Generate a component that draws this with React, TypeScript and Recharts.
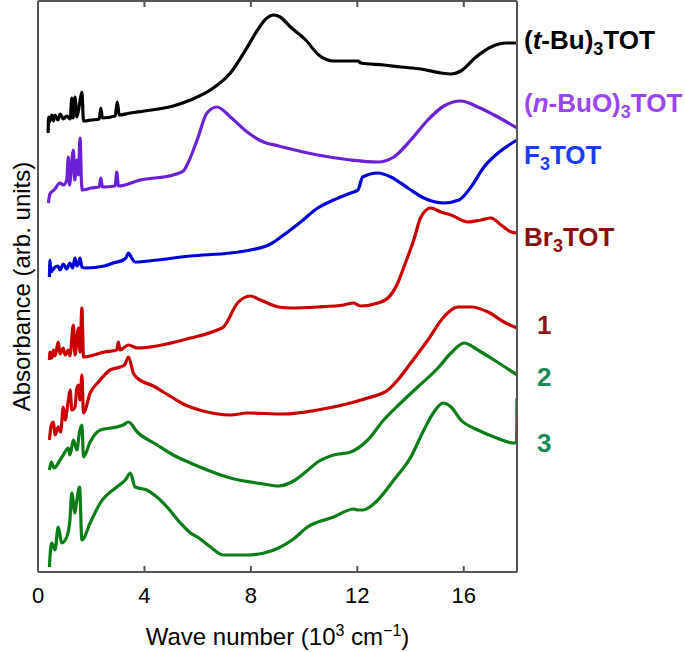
import React from 'react';
import { LineChart, Line, XAxis, YAxis } from 'recharts';

// wave number (10^3 cm^-1), absorbance (arb. units, curves stacked with offsets)
const tBuTOT: [number, number][] = [
  [0.38, 439], [0.40, 455], [0.43, 450], [0.52, 457], [0.58, 451], [0.64, 457], [0.75, 452], [0.83, 458],
  [0.95, 453], [1.08, 456], [1.21, 453], [1.27, 474], [1.32, 454], [1.39, 475], [1.46, 455], [1.56, 468],
  [1.65, 480], [1.71, 451], [2.0, 452], [2.30, 453], [2.36, 464], [2.42, 454], [2.90, 456], [2.98, 470],
  [3.05, 457], [3.47, 459], [4.0, 461], [5.08, 466], [5.73, 472], [6.59, 484], [7.23, 499], [7.80, 522],
  [8.25, 542], [8.60, 554], [8.85, 557], [9.10, 555], [9.49, 545], [10.06, 532], [10.55, 517], [11.11, 511],
  [11.94, 511], [12.02, 511], [12.13, 509], [13.0, 507], [13.63, 505], [14.39, 503], [15.14, 499],
  [15.52, 498], [15.89, 501], [16.46, 515], [17.02, 525], [17.59, 529], [18, 529],
];

const nBuOTOT: [number, number][] = [
  [0.39, 369], [0.45, 378], [0.60, 382], [0.83, 389], [0.95, 387], [1.08, 392], [1.14, 415], [1.18, 387],
  [1.33, 422], [1.38, 392], [1.46, 412], [1.52, 397], [1.58, 434], [1.63, 392], [1.67, 382], [2.0, 384],
  [2.30, 385], [2.36, 394], [2.42, 385], [2.90, 386], [2.96, 400], [3.02, 386], [3.84, 392], [5.08, 397],
  [5.46, 401], [5.60, 407], [5.98, 432], [6.35, 459], [6.73, 465], [7.23, 455], [7.86, 440], [8.47, 430],
  [9.04, 426], [10.51, 417], [11.75, 412], [12.77, 410], [13.37, 415], [14.01, 432], [14.65, 452],
  [15.25, 466], [15.89, 471], [16.53, 465], [17.14, 457], [18, 444],
];

const F3TOT: [number, number][] = [
  [0.43, 295], [0.45, 312], [0.48, 300], [0.60, 304], [0.75, 306], [0.83, 302], [0.95, 308], [1.08, 303],
  [1.20, 309], [1.30, 304], [1.39, 314], [1.46, 306], [1.52, 308], [1.58, 314], [1.65, 305], [1.77, 304],
  [2.5, 306], [2.82, 309], [3.20, 312], [3.30, 314], [3.40, 319], [3.52, 314], [3.65, 310], [4.48, 312],
  [5.73, 316], [7.23, 319], [7.98, 322], [8.47, 325], [8.74, 328], [9.23, 337], [9.87, 350], [10.51, 364],
  [11.11, 372], [11.75, 379], [12.02, 382], [12.20, 395], [12.77, 399], [13.26, 395], [13.90, 384],
  [14.50, 374], [15.25, 369], [15.82, 372], [16.27, 385], [16.76, 405], [17.29, 419], [18, 432],
];

const Br3TOT: [number, number][] = [
  [0.43, 212], [0.45, 220], [0.52, 214], [0.58, 222], [0.64, 216], [0.76, 230], [0.83, 218], [0.95, 224],
  [1.02, 217], [1.14, 222], [1.20, 216], [1.33, 247], [1.39, 217], [1.52, 244], [1.58, 220], [1.65, 264],
  [1.71, 215], [2.5, 220], [2.96, 222], [3.02, 230], [3.08, 222], [3.40, 227], [3.73, 224], [5.73, 234],
  [6.74, 242], [6.97, 245], [7.50, 269], [7.98, 276], [8.36, 272], [9.04, 265], [9.49, 264], [10.51, 265],
  [11.49, 267], [11.86, 269], [12.02, 267], [12.13, 266], [12.77, 269], [13.15, 274], [13.52, 289],
  [13.75, 305], [14.12, 332], [14.39, 355], [14.76, 364], [15.14, 360], [15.52, 357], [16.16, 350],
  [16.65, 352], [17.02, 354], [17.40, 347], [17.78, 340], [18, 339],
];

const cpd1: [number, number][] = [
  [0.43, 132], [0.50, 147], [0.58, 150], [0.64, 137], [0.76, 145], [0.85, 140], [0.95, 165], [1.02, 152],
  [1.14, 172], [1.21, 182], [1.27, 162], [1.39, 165], [1.45, 182], [1.52, 187], [1.58, 172], [1.65, 197],
  [1.71, 159], [1.96, 179], [2.27, 190], [2.71, 202], [3.09, 205], [3.25, 207], [3.40, 215], [3.58, 199],
  [3.73, 194], [4.33, 186], [4.71, 180], [5.08, 174], [5.46, 168], [6.21, 161], [7.23, 157], [7.87, 159],
  [9.23, 158], [10.51, 162], [11.75, 169], [12.39, 174], [13.15, 182], [13.52, 192], [14.01, 209],
  [14.65, 232], [15.25, 255], [15.78, 265], [16.27, 265], [16.91, 260], [17.51, 250], [18, 244],
];

const cpd2: [number, number][] = [
  [0.43, 102], [0.50, 110], [0.60, 104], [0.83, 112], [0.95, 117], [1.14, 124], [1.20, 117], [1.33, 132],
  [1.46, 122], [1.56, 140], [1.65, 147], [1.71, 115], [1.96, 130], [2.34, 142], [2.96, 145], [3.20, 147],
  [3.40, 150], [3.73, 140], [4.48, 127], [5.08, 117], [5.73, 109], [5.99, 106], [7.23, 94], [8.47, 88],
  [9.04, 86], [9.60, 91], [10.10, 101], [10.51, 110], [11.11, 117], [11.75, 120], [12.39, 132],
  [12.99, 152], [13.63, 169], [14.27, 185], [15.03, 204], [15.52, 219], [16.01, 229], [16.53, 222],
  [17.14, 212], [18, 197],
];

const cpd3: [number, number][] = [
  [0.43, 5], [0.45, 15], [0.52, 29], [0.64, 22], [0.76, 45], [0.89, 29], [1.08, 35], [1.20, 52],
  [1.27, 79], [1.39, 59], [1.46, 72], [1.56, 85], [1.65, 32], [1.96, 49], [2.34, 69], [2.96, 85],
  [3.28, 92], [3.47, 99], [3.65, 85], [4.09, 82], [4.47, 75], [4.85, 65], [5.35, 49], [5.73, 39],
  [5.99, 35], [6.48, 25], [6.97, 17], [7.87, 17], [8.50, 19], [9.04, 24], [9.60, 33], [10.13, 45],
  [11.11, 55], [11.86, 63], [12.02, 62], [12.20, 62], [12.77, 72], [13.37, 92], [14.01, 115], [14.50, 142],
  [14.88, 160], [15.22, 169], [15.52, 165], [15.89, 152], [16.53, 142], [17.14, 135], [17.89, 129],
  [17.98, 129], [18, 174],
];

const xTicks = [0, 4, 8, 12, 16];

const FONT = '"Liberation Sans", Arial, Helvetica, sans-serif';
const AXIS = '#555';
const AXIS_W = 2;

const series = [
  {
    key: 'tBu', data: tBuTOT, stroke: '#000000', color: '#000000', dx: 7, dy: -3,
    name: (
      <>
        <tspan>(</tspan><tspan fontStyle="italic">t</tspan><tspan>-Bu)</tspan>
        <tspan dy={6} fontSize={18}>3</tspan><tspan dy={-6}>TOT</tspan>
      </>
    ),
  },
  {
    key: 'nBuO', data: nBuOTOT, stroke: '#6b1fd6', color: '#9a45f2', dx: 7, dy: -25,
    name: (
      <>
        <tspan>(</tspan><tspan fontStyle="italic">n</tspan><tspan>-BuO)</tspan>
        <tspan dy={6} fontSize={18}>3</tspan><tspan dy={-6}>TOT</tspan>
      </>
    ),
  },
  {
    key: 'F3', data: F3TOT, stroke: '#0000d8', color: '#1a3cf2', dx: 7, dy: 15,
    name: <><tspan>F</tspan><tspan dy={6} fontSize={18}>3</tspan><tspan dy={-6}>TOT</tspan></>,
  },
  {
    key: 'Br3', data: Br3TOT, stroke: '#c80000', color: '#8b0e0e', dx: 7, dy: 4,
    name: <><tspan>Br</tspan><tspan dy={6} fontSize={18}>3</tspan><tspan dy={-6}>TOT</tspan></>,
  },
  { key: 'c1', data: cpd1, stroke: '#c80000', color: '#8b1a1a', dx: 20, dy: -3, name: <tspan>1</tspan> },
  { key: 'c2', data: cpd2, stroke: '#0b7d16', color: '#198a55', dx: 20, dy: 2, name: <tspan>2</tspan> },
  { key: 'c3', data: cpd3, stroke: '#0b7d16', color: '#198a55', dx: 20, dy: 45, name: <tspan>3</tspan> },
];

const BottomTick = (props: any) => {
  const { x, y, payload } = props;
  return (
    <g>
      <line x1={x} x2={x} y1={y} y2={y - 6} stroke={AXIS} strokeWidth={AXIS_W} />
      <text x={x} y={y + 31} textAnchor="middle" fontSize={22} fontFamily={FONT} fill="#000">
        {payload.value}
      </text>
    </g>
  );
};

const TopTick = (props: any) => {
  const { x, y } = props;
  return <line x1={x} x2={x} y1={y} y2={y + 6} stroke={AXIS} strokeWidth={AXIS_W} />;
};

const YTitle = (props: any) => {
  const { viewBox } = props;
  const cx = viewBox.x - 16;
  const cy = viewBox.y + viewBox.height / 2;
  return (
    <text
      x={cx}
      y={cy}
      transform={`rotate(-90 ${cx} ${cy})`}
      textAnchor="middle"
      dominantBaseline="central"
      fontSize={24}
      fontFamily={FONT}
      fill="#000"
    >
      Absorbance (arb. units)
    </text>
  );
};

const XTitle = (props: any) => {
  const { viewBox } = props;
  return (
    <text
      x={viewBox.x + viewBox.width / 2}
      y={viewBox.y + 73}
      textAnchor="middle"
      fontSize={24}
      fontFamily={FONT}
      fill="#000"
    >
      <tspan>Wave number (10</tspan>
      <tspan dy={-9} fontSize={16}>3</tspan>
      <tspan dy={9}> cm</tspan>
      <tspan dy={-9} fontSize={16}>−1</tspan>
      <tspan dy={9}>)</tspan>
    </text>
  );
};

export default function App() {
  return (
    <div style={{ width: 685, height: 652, background: '#fff' }}>
      <style>{'body{margin:0}'}</style>
      <LineChart width={685} height={652} margin={{ top: 0, right: 167, bottom: 0, left: 37 }}>
        <XAxis
          xAxisId="bottom"
          type="number"
          dataKey="x"
          domain={[0, 18]}
          ticks={xTicks}
          allowDataOverflow
          height={80}
          tickSize={0}
          tickMargin={0}
          tickLine={false}
          axisLine={{ stroke: AXIS, strokeWidth: AXIS_W }}
          tick={<BottomTick />}
          label={<XTitle />}
        />
        <XAxis
          xAxisId="top"
          orientation="top"
          type="number"
          dataKey="x"
          domain={[0, 18]}
          ticks={xTicks}
          allowDataOverflow
          height={1}
          tickSize={0}
          tickMargin={0}
          tickLine={false}
          axisLine={{ stroke: AXIS, strokeWidth: AXIS_W }}
          tick={<TopTick />}
        />
        <YAxis
          yAxisId="left"
          type="number"
          domain={[0, 571]}
          width={1}
          tick={false}
          tickLine={false}
          axisLine={{ stroke: AXIS, strokeWidth: AXIS_W }}
          label={<YTitle />}
        />
        <YAxis
          yAxisId="right"
          orientation="right"
          type="number"
          domain={[0, 571]}
          width={1}
          tick={false}
          tickLine={false}
          axisLine={{ stroke: AXIS, strokeWidth: AXIS_W }}
        />
        {series.map((s) => {
          const rows = s.data.map(([x, y]) => ({ x, y }));
          const last = rows.length - 1;
          return (
            <Line
              key={s.key}
              xAxisId="bottom"
              yAxisId="left"
              data={rows}
              dataKey="y"
              type="monotoneX"
              stroke={s.stroke}
              strokeWidth={3.2}
              dot={false}
              activeDot={false}
              isAnimationActive={false}
              label={(p: any) =>
                p.index === last ? (
                  <text
                    key={`lbl-${s.key}`}
                    x={p.x + s.dx}
                    y={p.y + s.dy + 9}
                    fontSize={26}
                    fontWeight="bold"
                    fontFamily={FONT}
                    fill={s.color}
                  >
                    {s.name}
                  </text>
                ) : (
                  <g key={`lbl-${s.key}-${p.index}`} />
                )
              }
            />
          );
        })}
      </LineChart>
    </div>
  );
}
